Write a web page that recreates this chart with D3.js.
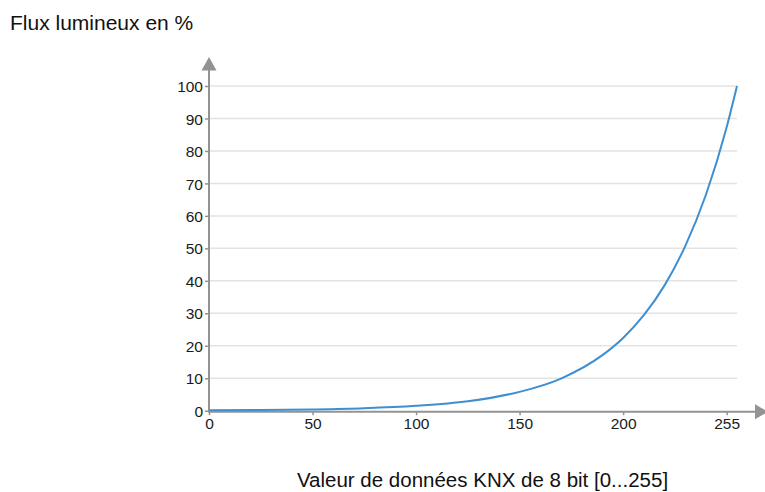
<!DOCTYPE html>
<html><head><meta charset="utf-8">
<script src="https://cdn.jsdelivr.net/npm/d3@7"></script>
<style>
html,body{margin:0;padding:0;background:#fff;}
svg{display:block;font-family:"Liberation Sans",Arial,Helvetica,sans-serif;}
</style></head>
<body>
<svg id="c" width="765" height="492"></svg>
<script>
// Data
const xValues = [0, 25, 50, 75, 100, 125, 150, 170, 190, 200, 210, 220, 230, 240, 250, 255];
const fluxValues = [0.1, 0.19, 0.38, 0.75, 1.5, 2.9, 5.8, 9.9, 17.1, 22.4, 29.4, 38.6, 50.7, 66.5, 87.3, 100];
const yTicks = [0, 10, 20, 30, 40, 50, 60, 70, 80, 90, 100];
const xTicks = [0, 50, 100, 150, 200, 250];
const xTickLabels = ["0", "50", "100", "150", "200", "255"];
const title = "Flux lumineux en %";
const xTitle = "Valeur de données KNX de 8 bit [0...255]";

const svg = d3.select("#c");
const x = d3.scaleLinear().domain([0, 255]).range([209, 737]);
const y = d3.scaleLinear().domain([0, 100]).range([410.7, 86]);
const axisColor = "#939393";

// gridlines
svg.append("g").selectAll("line").data(yTicks.filter(d => d > 0)).join("line")
  .attr("x1", x(0)).attr("x2", x(255))
  .attr("y1", d => y(d)).attr("y2", d => y(d))
  .attr("stroke", "#e3e3e3").attr("stroke-width", 1.5);

// y axis
const yAxis = d3.axisLeft(y).tickValues(yTicks).tickSize(4).tickPadding(2).tickFormat(d3.format("d"));
const gy = svg.append("g").attr("transform", `translate(${x(0)},0)`).call(yAxis);
gy.select(".domain").remove();
gy.selectAll(".tick line").attr("stroke", axisColor).attr("stroke-width", 1.5);
gy.selectAll(".tick text").attr("fill", "#1a1a1a").style("font-size", "15.5px")
  .style("font-family", "Liberation Sans, Arial, sans-serif").attr("dy", "0.36em");

// x axis
const xAxis = d3.axisBottom(x).tickValues(xTicks).tickSize(4).tickPadding(3)
  .tickFormat((d, i) => xTickLabels[i]);
const gx = svg.append("g").attr("transform", `translate(0,${y(0) + 0.5})`).call(xAxis);
gx.select(".domain").remove();
gx.selectAll(".tick line").attr("stroke", axisColor).attr("stroke-width", 1.5);
gx.selectAll(".tick text").attr("fill", "#1a1a1a").style("font-size", "15.5px")
  .style("font-family", "Liberation Sans, Arial, sans-serif");

// axis lines with arrows
svg.append("line").attr("x1", x(0)).attr("x2", x(0)).attr("y1", y(0) + 1.5).attr("y2", 68)
  .attr("stroke", axisColor).attr("stroke-width", 2);
svg.append("path").attr("d", `M${x(0)},57 L${x(0) - 7.5},70.5 L${x(0) + 7.5},70.5 Z`).attr("fill", axisColor);
svg.append("line").attr("x1", x(0) - 1).attr("x2", 758).attr("y1", y(0) + 1).attr("y2", y(0) + 1)
  .attr("stroke", axisColor).attr("stroke-width", 2);
svg.append("path").attr("d", `M768,${y(0) + 1} L755,${y(0) + 1 - 7.5} L755,${y(0) + 1 + 7.5} Z`).attr("fill", axisColor);

// curve
const line = d3.line().x((d, i) => x(xValues[i])).y(d => y(d)).curve(d3.curveMonotoneX);
svg.append("path").datum(fluxValues).attr("d", line)
  .attr("fill", "none").attr("stroke", "#3d8fd1").attr("stroke-width", 2);

// titles
svg.append("text").attr("x", 10).attr("y", 30).text(title)
  .attr("fill", "#111").style("font-size", "21px");
svg.append("text").attr("x", 482.5).attr("y", 486.5).attr("text-anchor", "middle").text(xTitle)
  .attr("fill", "#111").style("font-size", "20.5px");
</script>
</body></html>
